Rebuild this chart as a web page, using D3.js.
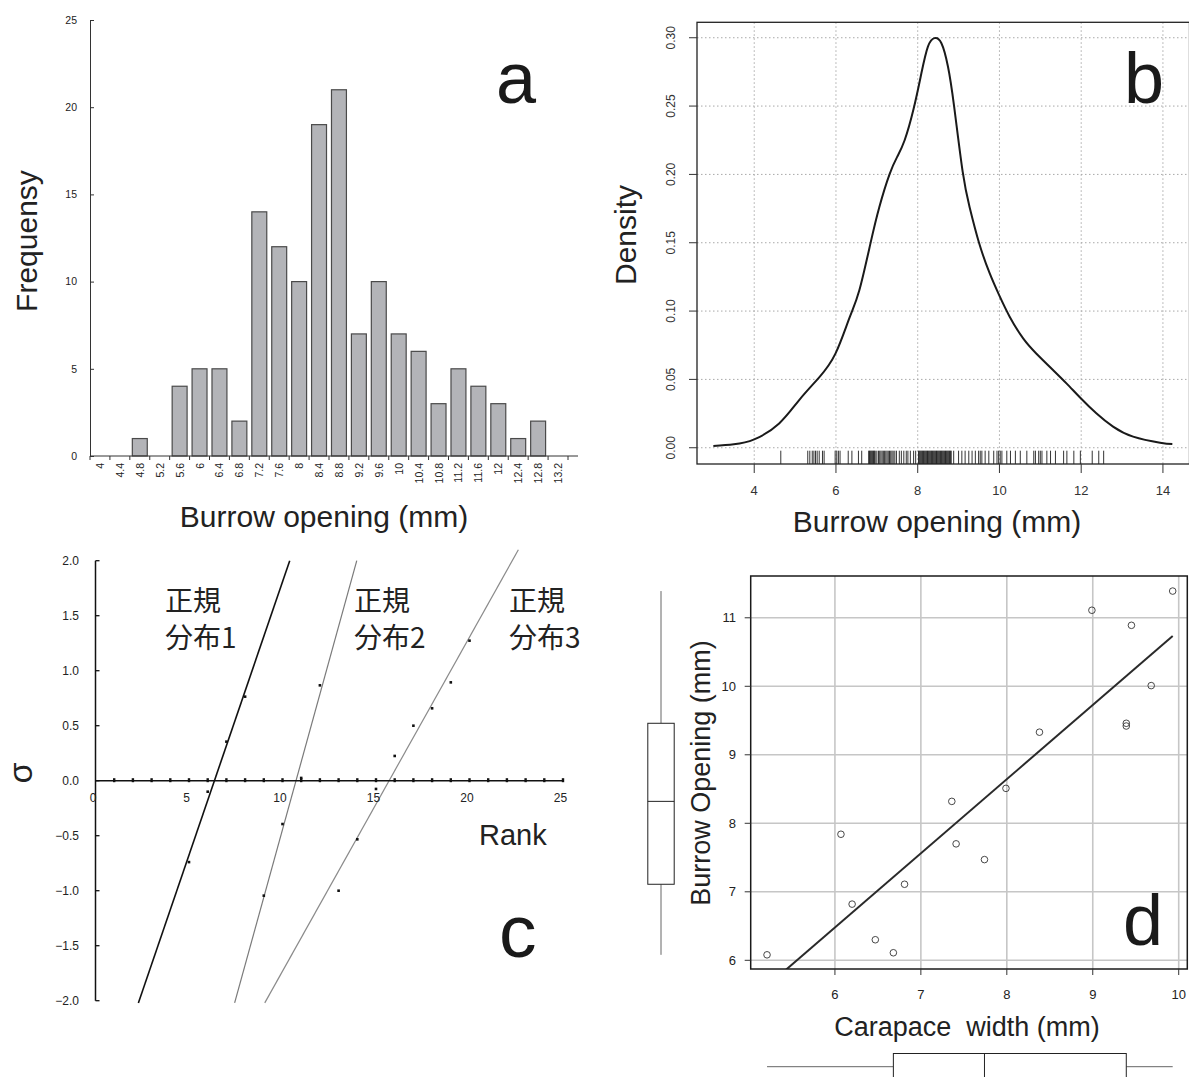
<!DOCTYPE html>
<html><head><meta charset="utf-8">
<script src="https://cdn.jsdelivr.net/npm/d3@7"></script>
<style>
html,body{margin:0;padding:0;background:#fff;}
svg{display:block;}
</style></head><body>
<svg id="chart" width="1189" height="1077"></svg>
<script>
// ---------------- Panel a : histogram ----------------
const histBins = ["4","4.4","4.8","5.2","5.6","6","6.4","6.8","7.2","7.6","8","8.4","8.8","9.2","9.6","10","10.4","10.8","11.2","11.6","12","12.4","12.8","13.2"];
const histCounts = [0,0,1,0,4,5,5,2,14,12,10,19,21,7,10,7,6,3,5,4,3,1,2,0];
const histYTicks = [0,5,10,15,20,25];

// ---------------- Panel b : density ----------------
const densX = [3.00,3.50,4.00,4.61,5.10,5.59,5.99,6.33,6.57,6.84,7.06,7.31,7.50,7.68,7.90,8.09,8.25,8.41,8.58,8.74,8.89,9.10,9.27,9.50,9.76,9.99,10.25,10.58,10.90,11.31,11.64,11.99,12.37,12.78,13.27,13.93,14.23];
const densY = [0.0012,0.0025,0.0061,0.0178,0.0349,0.0515,0.0690,0.0950,0.1150,0.1490,0.1760,0.2000,0.2130,0.2250,0.2480,0.2740,0.2935,0.2997,0.2960,0.2790,0.2500,0.2020,0.1760,0.1500,0.1277,0.1118,0.0959,0.0800,0.0690,0.0569,0.0471,0.0362,0.0252,0.0154,0.0081,0.0037,0.0027];
const rugValues = [4.65,5.31,5.36,5.42,5.46,5.50,5.54,5.59,5.67,5.71,5.98,6.02,6.06,6.10,6.30,6.39,6.55,6.63,
  6.80,6.82,6.84,6.86,6.88,6.90,6.92,6.94,6.96,7.00,7.04,7.07,7.10,7.13,7.16,7.19,7.22,7.25,7.28,7.31,7.34,7.37,7.40,7.44,7.48,
  7.55,7.60,7.66,7.72,7.76,7.82,7.90,7.95,
  8.02,8.04,8.06,8.08,8.10,8.12,8.14,8.16,8.18,8.20,8.22,8.24,8.26,8.28,8.30,8.32,8.34,8.36,8.38,8.40,8.42,8.44,8.46,8.48,8.50,8.52,8.54,8.56,8.58,8.60,8.62,8.64,8.66,8.68,8.70,8.72,8.74,8.76,8.78,8.80,8.82,
  8.88,9.00,9.08,9.16,9.25,9.33,9.41,9.49,9.53,9.57,9.65,9.74,9.86,9.94,9.98,10.02,10.06,10.18,10.27,10.39,10.51,10.67,10.84,10.88,10.96,11.00,11.04,11.16,11.25,11.37,11.57,11.65,11.82,11.98,12.27,12.43,12.55];
const densXTicks = [4,6,8,10,12,14];
const densYTicks = [0,0.05,0.10,0.15,0.20,0.25,0.30];

// ---------------- Panel c : normal probability plot ----------------
const rankMarks = [1,2,3,4,5,6,7,8,9,10,11,12,13,14,15,16,17,18,19,20,21,22,23,24,25];
const qqRank  = [5,6,7,8,9,10,11,12,13,14,15,16,17,18,19,20];
const qqSigma = [-0.74,-0.10,0.355,0.764,-1.045,-0.394,0.025,0.867,-1.0,-0.533,-0.075,0.225,0.50,0.658,0.894,1.273];
const qqGroup = [1,1,1,1,2,2,2,2,3,3,3,3,3,3,3,3];
const groupIds = [1,2,3];
const groupLabelTop = ["正規","正規","正規"];
const groupLabelBottom = ["分布1","分布2","分布3"];
const trendSigmaRange = [[-2.02,2.0],[-2.02,2.0],[-2.02,2.1]];
const rankTicks = [0,5,10,15,20,25];
const sigmaTicks = [-2,-1.5,-1,-0.5,0,0.5,1,1.5,2];

// ---------------- Panel d : regression ----------------
const carapace = [5.21,6.07,6.20,6.47,6.68,6.81,7.36,7.41,7.74,7.99,8.38,8.99,9.45,9.39,9.39,9.68,9.93];
const burrow   = [6.08,7.84,6.82,6.30,6.11,7.11,8.32,7.70,7.47,8.51,9.33,11.11,10.89,9.46,9.42,10.01,11.39];
const carapaceTicks = [6,7,8,9,10];
const burrowTicks = [6,7,8,9,10,11];

const SANS = "'Liberation Sans', Arial, Helvetica, sans-serif";
const NARROW = "'Liberation Sans Narrow', 'Arial Narrow', 'Liberation Sans', sans-serif";
const CJK = "'Noto Sans CJK JP', 'Noto Sans CJK SC', sans-serif";

const svg = d3.select("#chart");
svg.append("rect").attr("width",1189).attr("height",1077).attr("fill","#fff");

// ===================== Panel a =====================
(function(){
  const g = svg.append("g");
  const x = d3.scaleBand().domain(histBins).range([90,568]).paddingInner(0.25).paddingOuter(0.125);
  const y = d3.scaleLinear().domain([0,25]).range([456,20]);
  const data = histBins.map((b,i)=>({b, c:histCounts[i]}));
  g.selectAll("rect.bar").data(data.filter(d=>d.c>0)).join("rect").attr("class","bar")
    .attr("x",d=>x(d.b)).attr("y",d=>y(d.c)).attr("width",x.bandwidth()).attr("height",d=>y(0)-y(d.c))
    .attr("fill","#b3b4b8").attr("stroke","#4a4a4a").attr("stroke-width",1.2);
  const ax = d3.axisLeft(y).tickValues(histYTicks).tickSize(-4).tickSizeOuter(0).tickPadding(13).tickFormat(d3.format("d"));
  g.append("g").attr("transform","translate(90,0)").call(ax)
    .call(s=>s.attr("font-family",NARROW).attr("font-size",10.5))
    .call(s=>s.selectAll("text").attr("fill","#222"))
    .call(s=>s.selectAll("line,path").attr("stroke","#333"));
  g.append("line").attr("x1",90).attr("x2",578).attr("y1",y(0)).attr("y2",y(0)).attr("stroke","#333");
  const bounds = histBins.map(b=>x(b)+x.bandwidth()/2-x.step()/2).concat([x(histBins[histBins.length-1])+x.bandwidth()/2+x.step()/2]);
  g.selectAll("line.xt").data(bounds).join("line").attr("class","xt")
    .attr("x1",d=>d).attr("x2",d=>d).attr("y1",y(0)).attr("y2",y(0)+4).attr("stroke","#333");
  g.selectAll("text.xl").data(histBins).join("text").attr("class","xl")
    .attr("transform",d=>`translate(${x(d)+x.bandwidth()/2},463) rotate(-90)`)
    .attr("text-anchor","end").attr("dominant-baseline","central")
    .attr("font-family",NARROW).attr("font-size",10.5).attr("fill","#222").text(d=>d);
  g.append("text").attr("transform","translate(37,241) rotate(-90)").attr("text-anchor","middle")
    .attr("font-family",SANS).attr("font-size",30).attr("fill","#222").text("Frequensy");
  g.append("text").attr("x",324).attr("y",527).attr("text-anchor","middle")
    .attr("font-family",SANS).attr("font-size",30).attr("fill","#222").text("Burrow opening (mm)");
  g.append("text").attr("x",496).attr("y",103).attr("font-family",SANS).attr("font-size",72).attr("fill","#1a1a1a").text("a");
})();

// ===================== Panel b =====================
(function(){
  const g = svg.append("g");
  const x = d3.scaleLinear().domain([2.6,14.65]).range([697,1189.5]);
  const y = d3.scaleLinear().domain([-0.0119,0.3113]).range([464,22.3]);
  const [L,R] = x.range(), [B,T] = y.range();
  g.selectAll("line.gx").data(densXTicks).join("line").attr("class","gx")
    .attr("x1",d=>x(d)).attr("x2",d=>x(d)).attr("y1",T).attr("y2",B)
    .attr("stroke","#a9a9a9").attr("stroke-dasharray","1.5,2.5");
  g.selectAll("line.gy").data(densYTicks).join("line").attr("class","gy")
    .attr("x1",L).attr("x2",R).attr("y1",d=>y(d)).attr("y2",d=>y(d))
    .attr("stroke","#a9a9a9").attr("stroke-dasharray","1.5,2.5");
  g.selectAll("line.rug").data(rugValues).join("line").attr("class","rug")
    .attr("x1",d=>x(d)).attr("x2",d=>x(d)).attr("y1",B-13.3).attr("y2",B)
    .attr("stroke","#111").attr("stroke-width",1).attr("stroke-opacity",0.85);
  const ln = d3.line().x(i=>x(densX[i])).y(i=>y(densY[i])).curve(d3.curveNatural);
  g.append("path").datum(d3.range(densX.length)).attr("d",ln).attr("fill","none").attr("stroke","#1a1a1a").attr("stroke-width",2);
  g.append("rect").attr("x",L).attr("y",T).attr("width",R-L).attr("height",B-T).attr("fill","none").attr("stroke","#222").attr("stroke-width",1.3);
  g.selectAll("line.xt").data(densXTicks).join("line").attr("class","xt")
    .attr("x1",d=>x(d)).attr("x2",d=>x(d)).attr("y1",B).attr("y2",B+9).attr("stroke","#333");
  g.selectAll("text.xl").data(densXTicks).join("text").attr("class","xl")
    .attr("x",d=>x(d)).attr("y",495).attr("text-anchor","middle")
    .attr("font-family",SANS).attr("font-size",13).attr("fill","#333").text(d=>d);
  g.selectAll("line.yt").data(densYTicks).join("line").attr("class","yt")
    .attr("x1",L-8).attr("x2",L).attr("y1",d=>y(d)).attr("y2",d=>y(d)).attr("stroke","#333");
  g.selectAll("text.yl").data(densYTicks).join("text").attr("class","yl")
    .attr("transform",d=>`translate(675,${y(d)}) rotate(-90)`).attr("text-anchor","middle")
    .attr("font-family",SANS).attr("font-size",12).attr("fill","#333").text(d=>d3.format(".2f")(d));
  g.append("text").attr("transform","translate(636,235) rotate(-90)").attr("text-anchor","middle")
    .attr("font-family",SANS).attr("font-size",30).attr("fill","#222").text("Density");
  g.append("text").attr("x",937).attr("y",532).attr("text-anchor","middle")
    .attr("font-family",SANS).attr("font-size",30).attr("fill","#222").text("Burrow opening (mm)");
  g.append("text").attr("x",1124).attr("y",103).attr("font-family",SANS).attr("font-size",72).attr("fill","#1a1a1a").text("b");
})();

// ===================== Panel c =====================
(function(){
  const g = svg.append("g");
  const x = d3.scaleLinear().domain([0,25]).range([95.5,563]);
  const y = d3.scaleLinear().domain([-2,2]).range([1000.7,560.7]);
  const colors = ["#111","#7a7a7a","#8a8a8a"];
  const widths = [1.6,1.2,1.2];
  groupIds.forEach((gid,k)=>{
    const idx = qqRank.map((r,i)=>i).filter(i=>qqGroup[i]===gid);
    const mx = d3.mean(idx,i=>qqRank[i]), my = d3.mean(idx,i=>qqSigma[i]);
    const b = d3.sum(idx,i=>(qqRank[i]-mx)*(qqSigma[i]-my))/d3.sum(idx,i=>(qqRank[i]-mx)**2);
    const a = my - b*mx;
    const [s0,s1] = trendSigmaRange[k];
    g.append("line").attr("x1",x((s0-a)/b)).attr("y1",y(s0)).attr("x2",x((s1-a)/b)).attr("y2",y(s1))
      .attr("stroke",colors[k]).attr("stroke-width",widths[k]);
  });
  g.append("line").attr("x1",x(0)).attr("x2",x(0)).attr("y1",y(2)).attr("y2",y(-2)).attr("stroke","#111").attr("stroke-width",1.5);
  g.selectAll("line.yt").data(sigmaTicks).join("line").attr("class","yt")
    .attr("x1",x(0)).attr("x2",x(0)+4).attr("y1",d=>y(d)).attr("y2",d=>y(d)).attr("stroke","#111").attr("stroke-width",1.3);
  g.selectAll("text.yl").data(sigmaTicks).join("text").attr("class","yl")
    .attr("x",79).attr("y",d=>y(d)).attr("dy","0.35em").attr("text-anchor","end")
    .attr("font-family",NARROW).attr("font-size",12).attr("fill","#222").text(d=>d3.format(".1f")(d));
  g.append("line").attr("x1",x(0)).attr("x2",x(25)).attr("y1",y(0)).attr("y2",y(0)).attr("stroke","#111").attr("stroke-width",1.5);
  g.selectAll("rect.rm").data(rankMarks).join("rect").attr("class","rm")
    .attr("x",d=>x(d)-1.2).attr("y",y(0)-2.5).attr("width",2.4).attr("height",4).attr("fill","#111");
  g.selectAll("text.xl").data(rankTicks).join("text").attr("class","xl")
    .attr("x",d=>x(d)-2.5).attr("y",802).attr("text-anchor","middle")
    .attr("font-family",NARROW).attr("font-size",12).attr("fill","#222").text(d=>d);
  g.selectAll("rect.pt").data(qqRank.map((r,i)=>i)).join("rect").attr("class","pt")
    .attr("x",i=>x(qqRank[i])-1.3).attr("y",i=>y(qqSigma[i])-1.3).attr("width",2.6).attr("height",2.6).attr("fill","#111");
  const labX = [165,354,509];
  groupIds.forEach((gid,k)=>{
    g.append("text").attr("x",labX[k]).attr("y",611).attr("font-family",CJK).attr("font-size",28).attr("fill","#222").text(groupLabelTop[k]);
    g.append("text").attr("x",labX[k]).attr("y",648).attr("font-family",CJK).attr("font-size",28).attr("fill","#222").text(groupLabelBottom[k]);
  });
  g.append("text").attr("transform","translate(32,773) rotate(-90)").attr("text-anchor","middle")
    .attr("font-family",SANS).attr("font-size",34).attr("fill","#222").text("σ");
  g.append("text").attr("x",479).attr("y",845).attr("font-family",SANS).attr("font-size",29).attr("fill","#222").text("Rank");
  g.append("text").attr("x",499).attr("y",957).attr("font-family",SANS).attr("font-size",75).attr("fill","#1a1a1a").text("c");
})();

// ===================== Panel d =====================
(function(){
  const g = svg.append("g");
  const x = d3.scaleLinear().domain([5.02,10.1]).range([750.7,1187.3]);
  const y = d3.scaleLinear().domain([5.873,11.61]).range([969,576]);
  const [L,R] = x.range(), [B,T] = y.range();
  g.append("defs").append("clipPath").attr("id","clipD").append("rect").attr("x",L).attr("y",T).attr("width",R-L).attr("height",B-T);
  g.selectAll("line.gx").data(carapaceTicks).join("line").attr("class","gx")
    .attr("x1",d=>x(d)).attr("x2",d=>x(d)).attr("y1",T).attr("y2",B).attr("stroke","#c6c6c6").attr("stroke-width",1.6);
  g.selectAll("line.gy").data(burrowTicks).join("line").attr("class","gy")
    .attr("x1",L).attr("x2",R).attr("y1",d=>y(d)).attr("y2",d=>y(d)).attr("stroke","#c6c6c6").attr("stroke-width",1.6);
  const mx = d3.mean(carapace), my = d3.mean(burrow);
  const b = d3.sum(carapace,(v,i)=>(v-mx)*(burrow[i]-my))/d3.sum(carapace,v=>(v-mx)**2);
  const a = my - b*mx;
  const x0 = d3.min(carapace), x1 = d3.max(carapace);
  g.append("line").attr("clip-path","url(#clipD)")
    .attr("x1",x(x0)).attr("y1",y(a+b*x0)).attr("x2",x(x1)).attr("y2",y(a+b*x1))
    .attr("stroke","#2a2a2a").attr("stroke-width",2);
  g.selectAll("circle.pt").data(carapace.map((c,i)=>i)).join("circle").attr("class","pt")
    .attr("cx",i=>x(carapace[i])).attr("cy",i=>y(burrow[i])).attr("r",3.3)
    .attr("fill","none").attr("stroke","#333").attr("stroke-width",0.9);
  g.append("rect").attr("x",L).attr("y",T).attr("width",R-L).attr("height",B-T).attr("fill","none").attr("stroke","#1a1a1a").attr("stroke-width",1.5);
  g.selectAll("line.xt").data(carapaceTicks).join("line").attr("class","xt")
    .attr("x1",d=>x(d)).attr("x2",d=>x(d)).attr("y1",B).attr("y2",B+6).attr("stroke","#333");
  g.selectAll("text.xl").data(carapaceTicks).join("text").attr("class","xl")
    .attr("x",d=>x(d)).attr("y",999).attr("text-anchor","middle")
    .attr("font-family",SANS).attr("font-size",13).attr("fill","#222").text(d=>d);
  g.selectAll("line.yt").data(burrowTicks).join("line").attr("class","yt")
    .attr("x1",L-6).attr("x2",L).attr("y1",d=>y(d)).attr("y2",d=>y(d)).attr("stroke","#333");
  g.selectAll("text.yl").data(burrowTicks).join("text").attr("class","yl")
    .attr("x",736).attr("y",d=>y(d)).attr("dy","0.36em").attr("text-anchor","end")
    .attr("font-family",SANS).attr("font-size",13).attr("fill","#222").text(d=>d);
  g.append("text").attr("transform","translate(710,773) rotate(-90)").attr("text-anchor","middle")
    .attr("font-family",SANS).attr("font-size",27).attr("fill","#222").text("Burrow Opening (mm)");
  g.append("text").attr("x",967).attr("y",1036).attr("text-anchor","middle").attr("xml:space","preserve")
    .attr("font-family",SANS).attr("font-size",27).attr("fill","#222").text("Carapace  width (mm)");
  g.append("text").attr("x",1123).attr("y",945).attr("font-family",SANS).attr("font-size",72).attr("fill","#1a1a1a").text("d");

  const ys = burrow.slice().sort(d3.ascending), xs = carapace.slice().sort(d3.ascending);
  const qy = [0,0.25,0.5,0.75,1].map(p=>d3.quantile(ys,p));
  const qx = [0,0.25,0.5,0.75,1].map(p=>d3.quantile(xs,p));
  const bxC = 661, bw = 13.2;
  g.append("line").attr("x1",bxC).attr("x2",bxC).attr("y1",y(qy[0])).attr("y2",y(qy[1])).attr("stroke","#666");
  g.append("line").attr("x1",bxC).attr("x2",bxC).attr("y1",y(qy[3])).attr("y2",y(qy[4])).attr("stroke","#666");
  g.append("rect").attr("x",bxC-bw).attr("y",y(qy[3])).attr("width",2*bw).attr("height",y(qy[1])-y(qy[3])).attr("fill","#fff").attr("stroke","#222");
  g.append("line").attr("x1",bxC-bw).attr("x2",bxC+bw).attr("y1",y(qy[2])).attr("y2",y(qy[2])).attr("stroke","#222");
  const byC = 1066.7;
  g.append("line").attr("y1",byC).attr("y2",byC).attr("x1",x(qx[0])).attr("x2",x(qx[1])).attr("stroke","#666");
  g.append("line").attr("y1",byC).attr("y2",byC).attr("x1",x(qx[3])).attr("x2",x(qx[4])).attr("stroke","#666");
  g.append("rect").attr("y",byC-bw).attr("x",x(qx[1])).attr("height",2*bw).attr("width",x(qx[3])-x(qx[1])).attr("fill","#fff").attr("stroke","#222");
  g.append("line").attr("y1",byC-bw).attr("y2",byC+bw).attr("x1",x(qx[2])).attr("x2",x(qx[2])).attr("stroke","#222");
})();
</script>
</body></html>
